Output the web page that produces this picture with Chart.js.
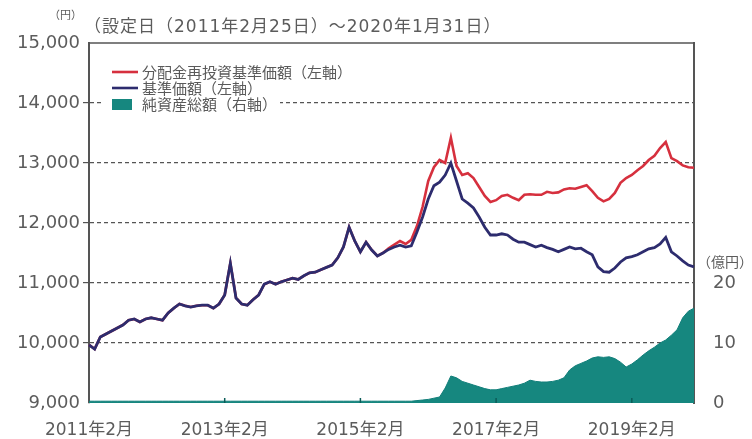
<!DOCTYPE html>
<html lang="ja">
<head>
<meta charset="utf-8">
<title>基準価額・純資産総額の推移</title>
<script src="https://cdn.jsdelivr.net/npm/chart.js@4.4.1/dist/chart.umd.min.js"></script>
<style>
  html, body { margin: 0; padding: 0; background: #fff; }
  #wrap { width: 752px; height: 439px; }
</style>
</head>
<body>
<div id="wrap"><canvas id="navChart" width="752" height="439"></canvas></div>
<script>
// 月次 (2011年2月 ～ 2020年1月)
var months = [];
for (var i = 0; i < 108; i++) {
    var y = 2011 + Math.floor((i + 1) / 12);
    var m = ((i + 1) % 12) + 1;
    months.push(y + '-' + (m < 10 ? '0' + m : m));
}

var tickLabels = ['2011年2月', '2013年2月', '2015年2月', '2017年2月', '2019年2月'];
var rightTicks = [0, 10, 20];

// 基準価額 (円)
var nav = [
    9970, 9900, 10100, 10150, 10200, 10250, 10300, 10380, 10400, 10350, 10400, 10420,
    10400, 10380, 10500, 10580, 10650, 10620, 10600, 10620, 10630, 10630, 10580, 10650,
    10800, 11330, 10750, 10650, 10630, 10720, 10800, 10980, 11020, 10980, 11020, 11050,
    11080, 11060, 11120, 11170, 11180, 11220, 11260, 11300, 11420, 11600, 11930, 11700,
    11520, 11680, 11550, 11450, 11500, 11560, 11600, 11630, 11600, 11620, 11850, 12100,
    12400, 12620, 12680, 12800, 13000, 12700, 12400, 12330, 12250, 12100, 11930, 11800,
    11800, 11820, 11800, 11730, 11680, 11680, 11640, 11600, 11630, 11590, 11560, 11520,
    11560, 11600, 11570, 11580, 11520, 11470, 11270, 11190, 11180, 11250, 11350, 11420,
    11440, 11470, 11520, 11570, 11590, 11650, 11760, 11520, 11450, 11370, 11300, 11270
];

// 分配金再投資基準価額 (円)
var navReinvested = [
    9970, 9900, 10100, 10150, 10200, 10250, 10300, 10380, 10400, 10350, 10400, 10420,
    10400, 10380, 10500, 10580, 10650, 10620, 10600, 10620, 10630, 10630, 10580, 10650,
    10800, 11330, 10750, 10650, 10630, 10720, 10800, 10980, 11020, 10980, 11020, 11050,
    11080, 11060, 11120, 11170, 11180, 11220, 11260, 11300, 11420, 11600, 11930, 11700,
    11520, 11680, 11550, 11450, 11500, 11580, 11640, 11700, 11650, 11720, 11950, 12270,
    12700, 12930, 13050, 13000, 13420, 12950, 12800, 12830, 12750, 12600, 12450, 12350,
    12380, 12450, 12470, 12420, 12380, 12470, 12480, 12470, 12470, 12520, 12500, 12510,
    12560, 12580, 12570, 12600, 12630, 12530, 12420, 12360, 12400, 12500, 12670, 12750,
    12800, 12880, 12950, 13050, 13120, 13250, 13350, 13080, 13030, 12960, 12930, 12920
];

// 純資産総額 (億円)
var netAssets = [
    0.3, 0.3, 0.3, 0.3, 0.3, 0.3, 0.3, 0.3, 0.3, 0.3, 0.3, 0.3,
    0.3, 0.3, 0.3, 0.3, 0.3, 0.3, 0.3, 0.3, 0.3, 0.3, 0.3, 0.3,
    0.3, 0.3, 0.3, 0.3, 0.3, 0.3, 0.3, 0.3, 0.3, 0.3, 0.3, 0.3,
    0.3, 0.3, 0.3, 0.3, 0.3, 0.3, 0.3, 0.3, 0.3, 0.3, 0.3, 0.3,
    0.3, 0.3, 0.3, 0.3, 0.3, 0.3, 0.3, 0.3, 0.3, 0.3, 0.4, 0.5,
    0.6, 0.8, 1.0, 2.5, 4.5, 4.2, 3.6, 3.3, 3.0, 2.7, 2.4, 2.2,
    2.2, 2.4, 2.6, 2.8, 3.0, 3.3, 3.8, 3.6, 3.5, 3.5, 3.6, 3.8,
    4.2, 5.5, 6.2, 6.6, 7.0, 7.5, 7.7, 7.6, 7.7, 7.4, 6.8, 6.0,
    6.5, 7.2, 8.0, 8.7, 9.3, 10.0, 10.5, 11.3, 12.2, 14.2, 15.3, 15.8
];

var periodText = '（設定日（2011年2月25日）～2020年1月31日）';
var unitLeft = '（円）';
var unitRight = '（億円）';

var textColor = '#5c5c5c';

// 枠線・注記・凡例
var decorations = {
    id: 'decorations',
    afterDraw: function (chart) {
        var ctx = chart.ctx;
        var a = chart.chartArea;
        ctx.save();

        // 上の枠線
        ctx.strokeStyle = '#555';
        ctx.lineWidth = 1.6;
        ctx.beginPath();
        ctx.moveTo(a.left, a.top);
        ctx.lineTo(a.right + 1, a.top);
        ctx.stroke();

        // 下の目盛り
        var xs = chart.scales.x;
        ctx.strokeStyle = '#0b5c58';
        ctx.lineWidth = 1.5;
        [24, 48, 72, 96].forEach(function (idx) {
            var px = xs.getPixelForValue(idx);
            ctx.beginPath();
            ctx.moveTo(px, a.bottom);
            ctx.lineTo(px, a.bottom - 5);
            ctx.stroke();
        });

        // 注記
        ctx.fillStyle = textColor;
        ctx.textBaseline = 'middle';
        ctx.textAlign = 'left';
        ctx.font = "17px 'DejaVu Sans', 'Noto Sans CJK JP', sans-serif";
        ctx.letterSpacing = '1px';
        ctx.fillText(periodText, 84, 28);
        ctx.letterSpacing = '0px';
        ctx.font = "11px 'Noto Sans CJK JP', sans-serif";
        ctx.fillText(unitLeft, 49, 15);
        ctx.font = "14px 'Noto Sans CJK JP', sans-serif";
        ctx.fillText(unitRight, 697, 262);

        // 凡例
        var rows = [
            { ds: chart.data.datasets[1], y: 72, kind: 'line' },
            { ds: chart.data.datasets[0], y: 88, kind: 'line' },
            { ds: chart.data.datasets[2], y: 104, kind: 'box' }
        ];
        ctx.font = "15px 'Noto Sans CJK JP', sans-serif";
        rows.forEach(function (r) {
            var w = ctx.measureText(r.ds.label).width;
            ctx.fillStyle = '#fff';
            ctx.fillRect(102, r.y - 8, 142 - 102 + w + 3, 16);
            if (r.kind === 'line') {
                ctx.strokeStyle = r.ds.borderColor;
                ctx.lineWidth = 2.6;
                ctx.beginPath();
                ctx.moveTo(112, r.y);
                ctx.lineTo(138, r.y);
                ctx.stroke();
            } else {
                ctx.fillStyle = r.ds.backgroundColor;
                ctx.fillRect(112, r.y - 5, 20, 11);
            }
            ctx.fillStyle = '#5a5a5a';
            ctx.fillText(r.ds.label, 142, r.y);
        });

        ctx.restore();
    }
};

var ctx = document.getElementById('navChart').getContext('2d');

var navChart = new Chart(ctx, {
    type: 'line',
    data: {
        labels: months,
        datasets: [
            {
                label: '基準価額（左軸）',
                data: nav,
                yAxisID: 'y',
                borderColor: '#2d2c6e',
                borderWidth: 2.8,
                pointRadius: 0,
                fill: false,
                order: 0
            },
            {
                label: '分配金再投資基準価額（左軸）',
                data: navReinvested,
                yAxisID: 'y',
                borderColor: '#d6303e',
                borderWidth: 2.6,
                pointRadius: 0,
                fill: false,
                order: 1
            },
            {
                label: '純資産総額（右軸）',
                data: netAssets,
                yAxisID: 'y1',
                borderColor: '#127f7a',
                backgroundColor: '#16877f',
                borderWidth: 1,
                pointRadius: 0,
                fill: 'origin',
                order: 2
            }
        ]
    },
    options: {
        responsive: false,
        animation: false,
        devicePixelRatio: 1,
        layout: { padding: { top: 43, left: 0, right: 0, bottom: 0 } },
        font: { family: "'DejaVu Sans', 'Noto Sans CJK JP', sans-serif" },
        scales: {
            x: {
                type: 'category',
                offset: false,
                grid: { display: false },
                border: { display: false },
                ticks: {
                    autoSkip: false,
                    maxRotation: 0,
                    minRotation: 0,
                    padding: 9,
                    color: textColor,
                    font: { size: 17, family: "'DejaVu Sans', 'Noto Sans CJK JP', sans-serif" },
                    callback: function (value, index) {
                        return index % 24 === 0 ? tickLabels[index / 24] : '';
                    }
                },
                afterFit: function (scale) { scale.height = 36; }
            },
            y: {
                position: 'left',
                min: 9000,
                max: 15000,
                ticks: {
                    stepSize: 1000,
                    padding: 3,
                    color: textColor,
                    font: { size: 18, family: "'DejaVu Sans', sans-serif" },
                    callback: function (v) { return v.toLocaleString('en-US'); }
                },
                grid: {
                    color: function (c) {
                        if (c.tick && (c.tick.value === 9000 || c.tick.value === 15000)) return 'rgba(0,0,0,0)';
                        return '#555';
                    },
                    lineWidth: 1.2,
                    drawTicks: true,
                    tickLength: 6
                },
                border: { display: true, color: '#555', width: 2, dash: [4, 3] },
                afterFit: function (scale) { scale.width = 89; }
            },
            y1: {
                position: 'right',
                min: 0,
                max: 60,
                grid: { display: false },
                border: { display: true, color: '#555', width: 2 },
                ticks: {
                    padding: 11,
                    color: textColor,
                    font: { size: 18, family: "'DejaVu Sans', sans-serif" }
                },
                afterBuildTicks: function (scale) {
                    scale.ticks = rightTicks.map(function (v) { return { value: v }; });
                },
                afterFit: function (scale) { scale.width = 58; }
            }
        },
        plugins: {
            legend: { display: false },
            tooltip: { enabled: false },
            title: { display: false }
        }
    },
    plugins: [decorations]
});
</script>
</body>
</html>
